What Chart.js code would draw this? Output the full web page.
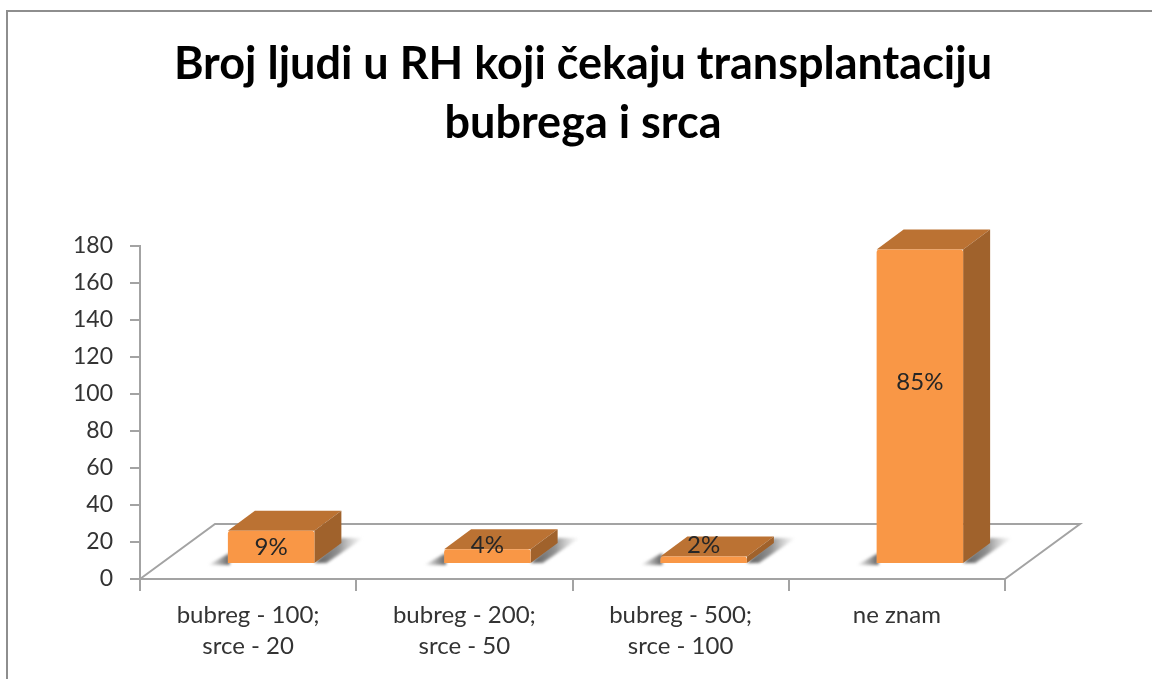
<!DOCTYPE html>
<html>
<head>
<meta charset="utf-8">
<title>Broj ljudi u RH</title>
<script src="https://cdn.jsdelivr.net/npm/chart.js@4"></script>
<style>
html, body { margin: 0; padding: 0; background: #fff; overflow: hidden; width: 1152px; height: 679px; }
#frame { position: absolute; left: 6px; top: 10px; width: 1300px; height: 900px; border: 2px solid #8e8e8e; }
#chart { position: absolute; left: 0; top: 0; }
</style>
</head>
<body>
<div id="frame"></div>
<canvas id="chart" width="1152" height="679"></canvas>
<script>
const categories = [['bubreg - 100;', 'srce - 20'], ['bubreg - 200;', 'srce - 50'], ['bubreg - 500;', 'srce - 100'], 'ne znam'];
const values = [18, 8, 4, 170];
const percentLabels = ['9%', '4%', '2%', '85%'];
const titleLines = ['Broj ljudi u RH koji čekaju transplantaciju', 'bubrega i srca'];

const fontName = 'Lato';
const axisColor = '#a3a3a3';
const textColor = '#333333';

// the bars stand in the middle of the floor, so they are shifted off the axis
const barShift = { x: 23, y: -15 };
const barDepth = { x: 27, y: -20 };
const floorDepth = { x: 75, y: -55 };
// excel did not put the labels in the middle of the bars
const labelLift = [0, -11, -15, -24];

const floorPlugin = {
    id: 'floor',
    afterLayout(chart) {
        // title is centred on the whole frame, not on the canvas padding
        chart.titleBlock.left = 0;
        chart.titleBlock.right = 1166;
    },
    beforeDatasetsDraw(chart) {
        const ctx = chart.ctx;
        const area = chart.chartArea;
        ctx.save();
        ctx.strokeStyle = axisColor;
        ctx.lineWidth = 2;
        ctx.beginPath();
        ctx.moveTo(area.left, area.bottom);
        ctx.lineTo(area.left + floorDepth.x, area.bottom + floorDepth.y);
        ctx.lineTo(area.right + floorDepth.x, area.bottom + floorDepth.y);
        ctx.lineTo(area.right, area.bottom);
        ctx.stroke();
        ctx.restore();
    }
};

const bar3dPlugin = {
    id: 'bar3d',
    beforeDatasetDraw(chart, args) {
        const ctx = chart.ctx;
        chart.getDatasetMeta(args.index).data.forEach(bar => {
            const left = bar.x - bar.width / 2 + barShift.x;
            const right = bar.x + bar.width / 2 + barShift.x;
            const top = bar.y + barShift.y;
            const base = bar.base + barShift.y;

            // shadow on the floor
            ctx.save();
            ctx.filter = 'blur(1.5px)';
            let shade = ctx.createLinearGradient(left - 20, 0, left, 0);
            shade.addColorStop(0, 'rgba(110,110,110,0)');
            shade.addColorStop(1, 'rgba(110,110,110,1)');
            ctx.fillStyle = shade;
            ctx.beginPath();
            ctx.moveTo(left - 20, base + 2);
            ctx.lineTo(left + 2, base - 10);
            ctx.lineTo(left + 2, base + 2);
            ctx.fill();
            shade = ctx.createLinearGradient(right, 0, right + barDepth.x + 22, 0);
            shade.addColorStop(0, 'rgba(90,90,90,1)');
            shade.addColorStop(0.5, 'rgba(120,120,120,0.8)');
            shade.addColorStop(1, 'rgba(170,170,170,0)');
            ctx.fillStyle = shade;
            ctx.beginPath();
            ctx.moveTo(right, base);
            ctx.lineTo(right + barDepth.x, base + barDepth.y - 5);
            ctx.lineTo(right + barDepth.x + 22, base + barDepth.y - 5);
            ctx.lineTo(right + 12, base);
            ctx.fill();
            ctx.restore();

            // top face
            ctx.fillStyle = '#bb7233';
            ctx.beginPath();
            ctx.moveTo(left, top);
            ctx.lineTo(left + barDepth.x, top + barDepth.y);
            ctx.lineTo(right + barDepth.x, top + barDepth.y);
            ctx.lineTo(right, top);
            ctx.fill();

            // side face
            ctx.fillStyle = '#a0622c';
            ctx.beginPath();
            ctx.moveTo(right, top);
            ctx.lineTo(right + barDepth.x, top + barDepth.y);
            ctx.lineTo(right + barDepth.x, base + barDepth.y);
            ctx.lineTo(right, base);
            ctx.fill();
        });
        ctx.save();
        ctx.translate(barShift.x, barShift.y);
    },
    afterDatasetDraw(chart) {
        chart.ctx.restore();
    },
    afterDatasetsDraw(chart) {
        const ctx = chart.ctx;
        ctx.save();
        ctx.font = '24px ' + fontName;
        ctx.fillStyle = '#262626';
        ctx.textAlign = 'center';
        ctx.textBaseline = 'middle';
        chart.getDatasetMeta(0).data.forEach((bar, i) => {
            const middle = (bar.y + bar.base) / 2 + barShift.y;
            ctx.fillText(percentLabels[i], bar.x + barShift.x, middle + labelLift[i]);
        });
        ctx.restore();
    }
};

new Chart(document.getElementById('chart'), {
    type: 'bar',
    data: {
        labels: categories,
        datasets: [{
            data: values,
            backgroundColor: '#f99746',
            borderRadius: 3,
            barPercentage: 1,
            categoryPercentage: 0.4,
            clip: false
        }]
    },
    options: {
        responsive: false,
        animation: false,
        layout: { padding: { left: 0, right: 147, top: 0, bottom: 0 } },
        plugins: {
            legend: { display: false },
            tooltip: { enabled: false },
            title: {
                display: true,
                text: titleLines,
                color: '#000000',
                font: { family: fontName, size: 45, weight: 'bold', lineHeight: 59 / 45 },
                padding: { top: 35, bottom: 93 }
            }
        },
        scales: {
            x: {
                afterFit(scale) { scale.height = 100; },
                border: { color: axisColor, width: 2 },
                grid: { drawOnChartArea: false, color: axisColor, lineWidth: 2, tickLength: 12 },
                ticks: {
                    color: textColor,
                    font: { family: fontName, size: 24, lineHeight: 31 / 24 },
                    padding: 9,
                    maxRotation: 0
                }
            },
            y: {
                min: 0,
                max: 180,
                afterFit(scale) { scale.width = 140; },
                border: { color: axisColor, width: 2 },
                grid: { drawOnChartArea: false, color: axisColor, lineWidth: 2, tickLength: 10 },
                ticks: {
                    stepSize: 20,
                    color: textColor,
                    font: { family: fontName, size: 23 },
                    padding: 17
                }
            }
        }
    },
    plugins: [floorPlugin, bar3dPlugin]
});
</script>
</body>
</html>
